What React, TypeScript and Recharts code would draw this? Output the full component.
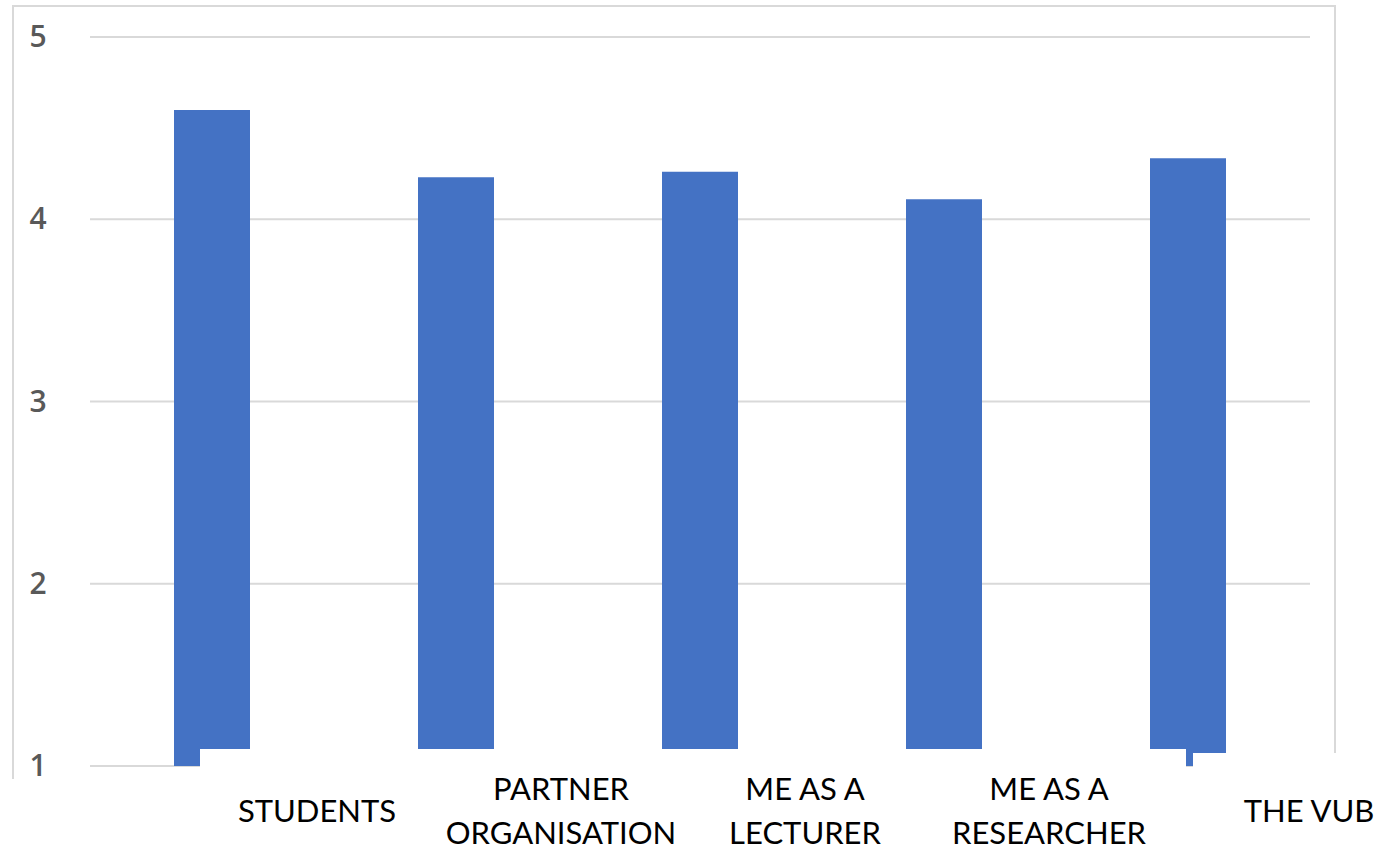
import React from "react";
import { BarChart, Bar, XAxis, YAxis, CartesianGrid } from "recharts";

const categories = ["STUDENTS", "PARTNER ORGANISATION", "ME AS A LECTURER", "ME AS A RESEARCHER", "THE VUB"];
const labelLines = [["STUDENTS"], ["PARTNER", "ORGANISATION"], ["ME AS A", "LECTURER"], ["ME AS A", "RESEARCHER"], ["THE VUB"]];
const scores = [4.6, 4.23, 4.26, 4.11, 4.335];
const yTicks = [1, 2, 3, 4, 5];

const data = categories.map((name, i) => ({ name, score: scores[i] }));

const BLUE = "#4472c4";
const LABEL_FONT = "Lato, 'Open Sans', sans-serif";

// pasted-in label strip: white patch that hides the bar feet, then the text
function CategoryTick(props: any) {
  const { x, y, index, payload } = props;
  const lines = labelLines[index] ?? [String(payload.value)];
  const cx = x + 105 + (index === 4 ? 16 : 0);
  const startY = lines.length === 1 ? y + 48 : y + 26;
  return (
    <g>
      {index === 0 && (
        <g>
          <rect x={200} y={y - 25} width={986} height={130} fill="#fff" />
          <rect x={1193} y={y - 21} width={200} height={130} fill="#fff" />
        </g>
      )}
      <text
        textAnchor="middle"
        fontFamily={LABEL_FONT}
        fontSize={31}
        fill="#000"
      >
        {lines.map((l: string, k: number) => (
          <tspan key={k} x={cx} y={startY + k * 44}>
            {l}
          </tspan>
        ))}
      </text>
    </g>
  );
}

function ValueTick(props: any) {
  const { y, payload } = props;
  return (
    <text
      x={38}
      y={y + 10}
      textAnchor="middle"
      fontFamily="'Open Sans', sans-serif"
      fontSize={30}
      fontWeight={600}
      fill="#595959"
    >
      {payload.value}
    </text>
  );
}

export default function App() {
  return (
    <div
      style={{
        position: "absolute",
        left: 0,
        top: 0,
        width: 1384,
        height: 856,
        background: "#fff",
        overflow: "hidden",
      }}
    >
      <div
        style={{
          position: "absolute",
          left: 12,
          top: 5,
          width: 1320,
          height: 772,
          border: "2px solid #d9d9d9",
          borderBottom: "none",
        }}
      />
      <div style={{ position: "absolute", left: 0, top: 0 }}>
        <BarChart
          width={1384}
          height={856}
          data={data}
          margin={{ top: 37, right: 74, bottom: 0, left: 0 }}
        >
          <CartesianGrid vertical={false} stroke="#d9d9d9" strokeWidth={2} />
          <YAxis
            domain={[1, 5]}
            ticks={yTicks}
            width={90}
            axisLine={false}
            tickLine={false}
            tick={<ValueTick />}
          />
          <Bar dataKey="score" fill={BLUE} barSize={76} isAnimationActive={false} />
          <XAxis
            dataKey="name"
            height={90}
            axisLine={false}
            tickLine={false}
            interval={0}
            tick={<CategoryTick />}
          />
        </BarChart>
      </div>
    </div>
  );
}
